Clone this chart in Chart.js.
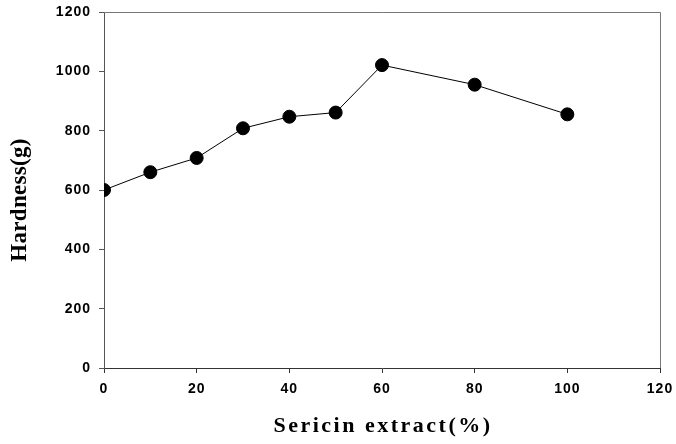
<!DOCTYPE html>
<html>
<head>
<meta charset="utf-8">
<script src="https://cdn.jsdelivr.net/npm/chart.js@4"></script>
<style>
  html, body { margin: 0; padding: 0; background: #fff; }
  #wrap { width: 676px; height: 444px; }
</style>
</head>
<body>
<div id="wrap"><canvas id="c" width="676" height="444"></canvas></div>
<script>
// ---- data ----
const sericinPct = [0, 10, 20, 30, 40, 50, 60, 80, 100];
const hardness   = [600, 660, 708, 808, 847, 861, 1021, 955, 855];
const xTicks = [0, 20, 40, 60, 80, 100, 120];
const yTicks = [0, 200, 400, 600, 800, 1000, 1200];
const xTitle = 'Sericin extract(%)';
const yTitle = 'Hardness(g)';

const points = sericinPct.map((x, i) => ({ x: x, y: hardness[i] }));

const spacingPlugin = {
  id: 'spacing',
  beforeDraw(chart) { chart.ctx.letterSpacing = '1px'; },
  afterDraw(chart) {
    const ctx = chart.ctx;
    const a = chart.chartArea;
    ctx.save();
    // frame top & right
    ctx.strokeStyle = '#777';
    ctx.lineWidth = 1;
    ctx.beginPath();
    ctx.moveTo(a.left, a.top + 0.5);
    ctx.lineTo(a.right + 0.5, a.top + 0.5);
    ctx.lineTo(a.right + 0.5, a.bottom);
    ctx.stroke();
    // axis titles
    ctx.fillStyle = '#000';
    ctx.font = 'bold 22px "Liberation Serif", "Times New Roman", serif';
    ctx.textAlign = 'center';
    ctx.textBaseline = 'middle';
    ctx.letterSpacing = '2.5px';
    ctx.fillText(xTitle, (a.left + a.right) / 2 + 1, 426);
    ctx.font = 'bold 23px "Liberation Serif", "Times New Roman", serif';
    ctx.letterSpacing = '0.3px';
    ctx.translate(20, 200);
    ctx.rotate(-Math.PI / 2);
    ctx.fillText(yTitle, 0, 0);
    ctx.restore();
    ctx.letterSpacing = '0px';
  }
};

const tickFont = { family: '"Liberation Sans", Arial, sans-serif', size: 14, weight: 'bold' };

new Chart(document.getElementById('c'), {
  type: 'line',
  data: {
    datasets: [{
      data: points,
      borderColor: '#000',
      borderWidth: 1,
      backgroundColor: '#000',
      pointBackgroundColor: '#000',
      pointBorderColor: '#000',
      pointRadius: 6.5,
      pointHoverRadius: 6.5,
      tension: 0,
      fill: false
    }]
  },
  options: {
    responsive: false,
    animation: false,
    devicePixelRatio: 1,
    layout: { padding: { top: 12, right: 16, left: 0, bottom: 0 } },
    plugins: { legend: { display: false }, tooltip: { enabled: false } },
    scales: {
      x: {
        type: 'linear',
        min: xTicks[0],
        max: xTicks[xTicks.length - 1],
        afterBuildTicks(s) { s.ticks = xTicks.map(v => ({ value: v })); },
        afterFit(s) { s.height = 76; s.paddingLeft = 0; s.paddingRight = 0; },
        grid: { drawOnChartArea: false, drawTicks: true, tickLength: 5, tickColor: '#333', color: '#333' },
        border: { color: '#333', width: 1 },
        ticks: { color: '#000', font: tickFont, padding: 8, maxRotation: 0, callback: v => String(v) }
      },
      y: {
        min: yTicks[0],
        max: yTicks[yTicks.length - 1],
        afterBuildTicks(s) { s.ticks = yTicks.map(v => ({ value: v })); },
        afterFit(s) { s.width = 104; s.paddingTop = 0; s.paddingBottom = 0; },
        grid: { drawOnChartArea: false, drawTicks: true, tickLength: 5, tickColor: '#555', color: '#555' },
        border: { color: '#555', width: 1 },
        ticks: { color: '#000', font: tickFont, padding: 8, callback: v => String(v) }
      }
    }
  },
  plugins: [spacingPlugin]
});
</script>
</body>
</html>
